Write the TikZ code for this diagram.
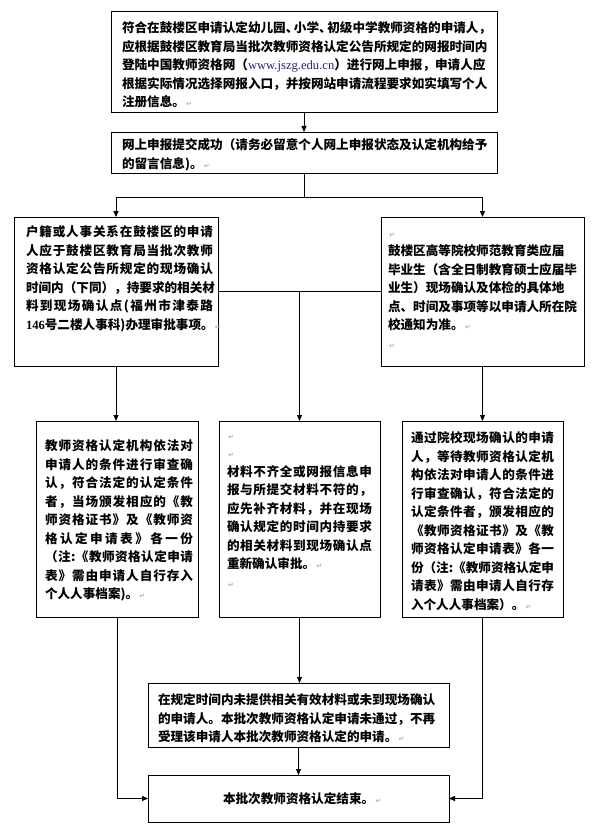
\documentclass[tikz,border=0pt]{standalone}
\usepackage{fontspec}
\usetikzlibrary{arrows.meta}
\newfontfamily\cjk{Noto Sans CJK SC}
\newfontfamily\lat{Liberation Serif}
\newfontfamily\symf{DejaVu Sans}
\definecolor{urlc}{RGB}{35,35,130}
\newcommand\parmark{{\symf\fontsize{7}{7}\selectfont\color{gray!60}\,↵}}
\newcommand\lstrut{\vphantom{国}}
% justified line: spreads the characters of #2 over width #1
\def\jfirst#1{#1\jrest}
\def\jrest#1{\ifx#1\relax\else\hskip 0pt plus 1fil#1\expandafter\jrest\fi}
\newcommand\jline[2]{\hbox to #1{\jfirst#2\relax}}
\tikzset{
  box/.style={draw, line width=0.8pt, inner sep=0pt, outer sep=0pt, anchor=north west, rectangle},
  txt/.style={anchor=north west, inner sep=0pt, outer sep=0pt, align=left,
              font=\cjk\bfseries\fontsize{12.6}{18.5}\selectfont},
  ln/.style={line width=0.8pt},
  arr/.style={line width=0.8pt, -{Triangle[length=6pt,width=5pt]}},
}
\begin{document}
\begin{tikzpicture}[x=1pt,y=-1pt]
\fill[white] (0,0) rectangle (608,832);
\useasboundingbox (0,0) rectangle (608,832);

% boxes
\node[box, minimum width=386pt, minimum height=101pt] (b1) at (111,11) {};
\node[box, minimum width=386pt, minimum height=41pt]  (b2) at (111,132) {};
\node[box, minimum width=204pt, minimum height=149pt] (b3) at (14,217) {};
\node[box, minimum width=203pt, minimum height=149pt] (b4) at (381,217) {};
\node[box, minimum width=162pt, minimum height=196pt] (b5) at (36,421) {};
\node[box, minimum width=161pt, minimum height=196pt] (b6) at (219,421) {};
\node[box, minimum width=161pt, minimum height=196pt] (b7) at (402,421) {};
\node[box, minimum width=301pt, minimum height=64pt]  (b8) at (148,683) {};
\node[box, minimum width=301pt, minimum height=47pt]  (b9) at (148,775) {};

% texts
\node[txt] (t1) at (122,22) {%
符合在鼓楼区申请认定幼儿园、\kern-.35em小学、\kern-.35em初级中学教师资格的申请人，\\
应根据鼓楼区教育局当批次教师资格认定公告所规定的网报时间内\\
登陆中国教师资格网（{\lat\mdseries\color{urlc}www.jszg.edu.cn}）进行网上申报，申请人应\\
根据实际情况选择网报入口，并按网站申请流程要求如实填写个人\\
注册信息。\parmark};

\node[txt] (t2) at (122,139) {%
网上申报提交成功（请务必留意个人网上申报状态及认定机构给予\\
的留言信息)。\parmark};

\node[txt] (t3) at (26,226) {%
\jline{187pt}{户籍或人事关系在鼓楼区的申请}\\
\jline{187pt}{人应于鼓楼区教育局当批次教师}\\
\jline{187pt}{资格认定公告所规定的现场确认}\\
\jline{187pt}{时间内（下同），持要求的相关材}\\
\jline{187pt}{料到现场确认点(福州市津泰路}\\
{\lat 146}号二楼人事科)办理审批事项。\parmark};

\node[txt] (t4) at (388,227) {%
\lstrut\parmark\\
鼓楼区高等院校师范教育类应届\\
毕业生（含全日制教育硕士应届毕\\
业生）现场确认及体检的具体地\\
点、时间及事项等以申请人所在院\\
校通知为准。\parmark\\
\lstrut\parmark};

\node[txt] (t5) at (45,440) {%
\jline{148pt}{教师资格认定机构依法对}\\
\jline{148pt}{申请人的条件进行审查确}\\
\jline{148pt}{认，符合法定的认定条件}\\
\jline{148pt}{者，当场颁发相应的《教}\\
\jline{148pt}{师资格证书》及《教师资}\\
\jline{148pt}{格认定申请表》各一份}\\
\jline{148pt}{（注:《教师资格认定申请}\\
\jline{148pt}{表》需由申请人自行存入}\\
个人人事档案)。\parmark};

\node[txt] (t6) at (227,429) {%
\lstrut\parmark\\
\lstrut\parmark\\
\jline{145pt}{材料不齐全或网报信息申}\\
\jline{145pt}{报与所提交材料不符的，}\\
\jline{145pt}{应先补齐材料，并在现场}\\
\jline{145pt}{确认规定的时间内持要求}\\
\jline{145pt}{的相关材料到现场确认点}\\
重新确认审批。\parmark\\
\lstrut\parmark};

\node[txt] (t7) at (411,432) {%
\jline{143pt}{通过院校现场确认的申请}\\
\jline{143pt}{人，等待教师资格认定机}\\
\jline{143pt}{构依法对申请人的条件进}\\
\jline{143pt}{行审查确认，符合法定的}\\
\jline{143pt}{认定条件者，颁发相应的}\\
\jline{143pt}{《教师资格证书》及《教}\\
\jline{143pt}{师资格认定申请表》各一}\\
\jline{143pt}{份（注:《教师资格认定申}\\
\jline{143pt}{请表》需由申请人自行存}\\
入个人人事档案）。\parmark};

\node[txt] (t8) at (158,694) {%
在规定时间内未提供相关有效材料或未到现场确认\\
的申请人。本批次教师资格认定申请未通过，不再\\
受理该申请人本批次教师资格认定的申请。\parmark};

\node[txt] (t9) at (223,793) {本批次教师资格认定结束。\parmark};

% connectors
\coordinate (s) at (b2.south |- 0,197);
\draw[ln] (b2.south) -- (s);
\draw[arr] (b1.south) -- (b2.north);
\draw[arr] (s) -| (b3.north);
\draw[arr] (s) -| (b4.north);
\draw[ln] (b3.east) -- (b3.east -| b4.west);
\coordinate (m) at (b6.north |- b3.east);
\draw[arr] (m) -- (b6.north);
\draw[arr] (b3.south) -- (b3.south |- b5.north);
\draw[arr] (b4.south) -- (b4.south |- b7.north);
\draw[arr] (b6.south) -- (b6.south |- b8.north);
\draw[arr] (b8.south) -- (b9.north);
\draw[arr] (b5.south) |- (b9.west);
\draw[arr] (b7.south) |- (b9.east);
\end{tikzpicture}
\end{document}
